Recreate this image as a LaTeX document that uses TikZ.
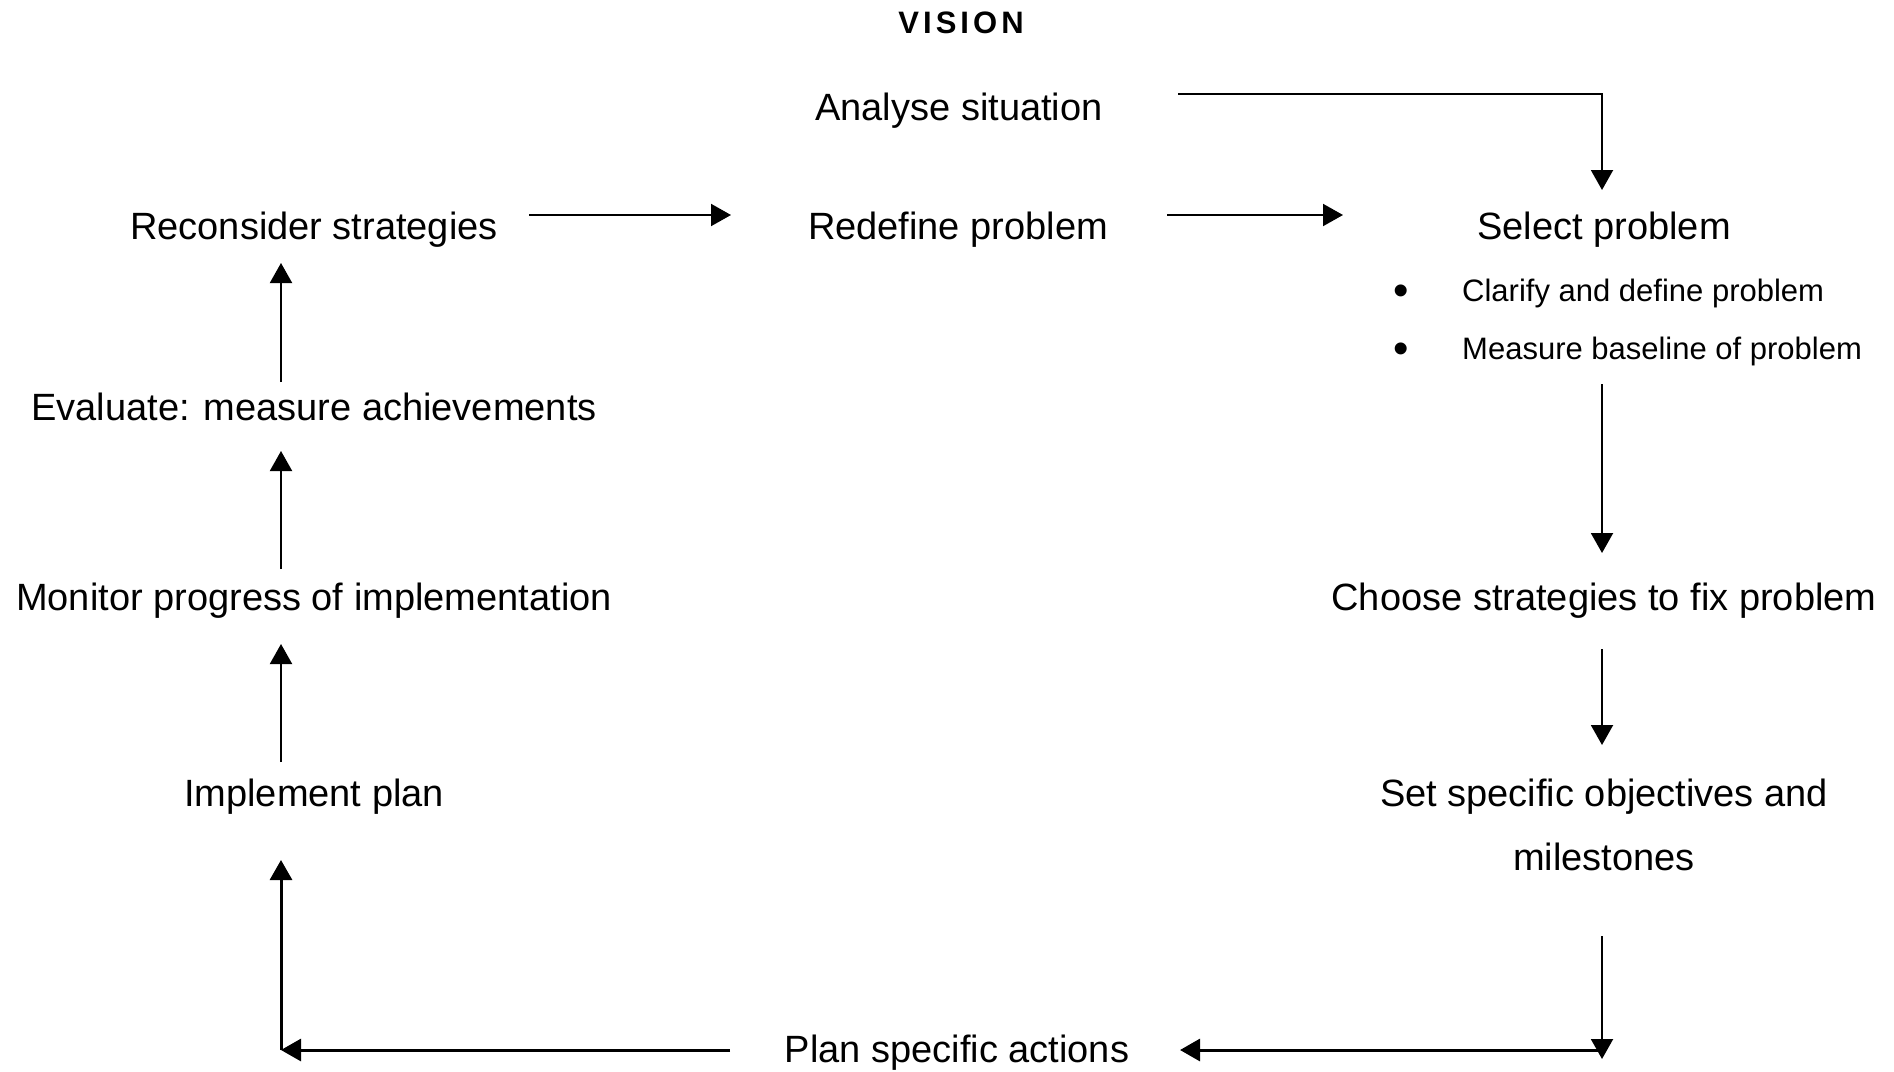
\documentclass[tikz,border=0pt]{standalone}
\usepackage{fontspec}
\setmainfont{Liberation Sans}
\usetikzlibrary{arrows.meta}
\begin{document}
\begin{tikzpicture}[x=1pt,y=-1pt,
  txt/.style={font=\fontsize{38}{46}\selectfont, inner sep=0pt, anchor=base},
  small/.style={font=\fontsize{31}{37}\selectfont, inner sep=0pt, anchor=base west},
  bul/.style={font=\fontsize{44}{50}\selectfont, inner sep=0pt, anchor=base},
  conn/.style={line width=2pt, -{Triangle[width=22pt,length=20pt]}},
  heavy/.style={line width=3pt, -{Triangle[width=22pt,length=20pt]}}]
\useasboundingbox (0,0) rectangle (1894,1071);
\fill[white] (0,0) rectangle (1894,1071);
% texts
\node[font=\bfseries\fontsize{31}{36}\selectfont\addfontfeatures{LetterSpace=13}, inner sep=0pt, anchor=base] (vision) at (961,33) {VISION};
\node[txt] (analyse) at (959,120) {Analyse situation};
\node[txt] (reconsider) at (314,239.5) {Reconsider strategies};
\node[txt] (redefine) at (958,239.5) {Redefine problem};
\node[txt] (select) at (1604,239.5) {Select problem};
\node[bul] (b1) at (1401,305) {•};
\node[small] (clarify) at (1462,301) {Clarify and define problem};
\node[bul] (b2) at (1401,363) {•};
\node[small] (measure) at (1462,359) {Measure baseline of problem};
\node[txt] (evaluate) at (314,420) {Evaluate:\hspace{14pt}measure achievements};
\node[txt] (monitor) at (314,610.5) {Monitor progress of implementation};
\node[txt] (choose) at (1604,610.5) {Choose strategies to fix problem};
\node[txt] (implement) at (314,806) {Implement plan};
\node[txt] (set) at (1604,806) {Set specific objectives and};
\node[txt] (setb) at (1604,870) {milestones};
\node[txt] (plan) at (957,1062) {Plan specific actions};
% connector end points
\coordinate (a1) at (1178,94);
\coordinate (a2) at (1602,94);
\coordinate (a3) at (1602,190);
\coordinate (r1) at (529,215);
\coordinate (r2) at (731,215);
\coordinate (d1) at (1167,215);
\coordinate (d2) at (1343,215);
\coordinate (s1) at (1602,384);
\coordinate (s2) at (1602,553);
\coordinate (c1) at (1602,649);
\coordinate (c2) at (1602,745);
\coordinate (m1) at (1602,936);
\coordinate (m2) at (1602,1059);
\coordinate (p1) at (1602,1050);
\coordinate (p2) at (1180,1050);
\coordinate (q1) at (730,1050);
\coordinate (q2) at (281,1050);
\coordinate (u1) at (281,860);
\coordinate (i1) at (281,762);
\coordinate (i2) at (281,644);
\coordinate (o1) at (281,569);
\coordinate (o2) at (281,451);
\coordinate (e1) at (281,382);
\coordinate (e2) at (281,263);
% connectors
\draw[conn] (a1) -- (a2) -- (a3);
\draw[conn] (r1) -- (r2);
\draw[conn] (d1) -- (d2);
\draw[conn] (s1) -- (s2);
\draw[conn] (c1) -- (c2);
\draw[conn] (m1) -- (m2);
\draw[heavy] (p1) -- (p2);
\draw[heavy] (q1) -- (q2);
\draw[heavy] (q2) -- (u1);
\draw[conn] (i1) -- (i2);
\draw[conn] (o1) -- (o2);
\draw[conn] (e1) -- (e2);
\end{tikzpicture}
\end{document}
